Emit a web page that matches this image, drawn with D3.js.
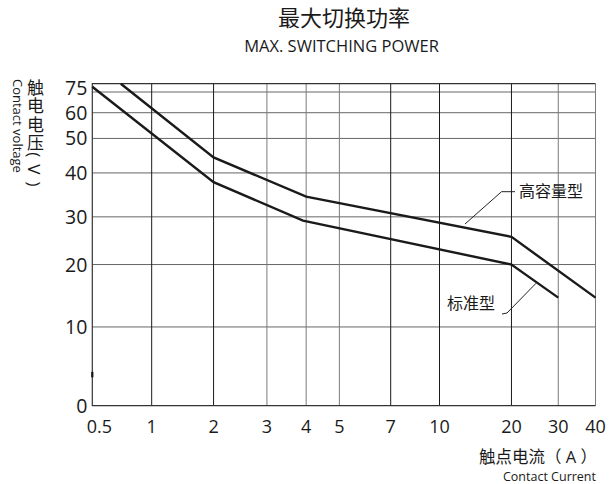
<!DOCTYPE html>
<html>
<head>
<meta charset="utf-8">
<script src="https://cdn.jsdelivr.net/npm/d3@7"></script>
<style>
  body { margin: 0; background: #fff; }
  svg { display: block; }
  text { font-family: "Open Sans", "Noto Sans CJK SC", sans-serif; fill: #1a1a1a; }
</style>
</head>
<body>
<div id="chart"></div>
<script>
// x axis (contact current, A) ticks and y axis (contact voltage, V) ticks
const xTicks = [0.5, 1, 2, 3, 4, 5, 7, 10, 20, 30, 40];
const xDarkTicks = [1, 2, 7, 10, 20];
const yTicks = [0, 10, 20, 30, 40, 50, 60, 75];
const yMax = 81;

// curves: [current, voltage]
const highCapacity = [[0.74, 81], [2, 44.5], [4, 34.6], [20, 25.8], [40, 14.7]];
const standard = [[0.5, 78.8], [2, 37.9], [3.92, 29.2], [20, 20], [30, 14.7]];

const width = 612, height = 484;
const margin = { left: 92.3, right: 16.5, bottom: 78.3, top: 92 };
const plotW = width - margin.left - margin.right;
const plotH = height - margin.top - margin.bottom;

// the printed axes are hand spaced, so the scales are piecewise
const xFrac = [0, 0.118, 0.241, 0.347, 0.425, 0.491, 0.593, 0.690, 0.833, 0.926, 1];
const yFrac = [0, 0.251, 0.450, 0.602, 0.742, 0.852, 0.934, 1];

const x = d3.scaleLinear()
    .domain(xTicks)
    .range(xFrac.map(f => margin.left + f * plotW));
const y = d3.scaleLinear()
    .domain(yTicks)
    .range(yFrac.map(f => margin.top + plotH - f * plotH));

const svg = d3.select("#chart").append("svg")
    .attr("width", width)
    .attr("height", height);

const yTop = y(yMax);
const yBottom = y(0);
const xLeft = x(xTicks[0]);
const xRight = x(xTicks[xTicks.length - 1]);

// horizontal grid
svg.append("g")
    .selectAll("line")
    .data(yTicks.slice(1))
    .join("line")
    .attr("x1", xLeft).attr("x2", xRight)
    .attr("y1", d => y(d)).attr("y2", d => y(d))
    .attr("stroke", "#666")
    .attr("stroke-width", 1);

// vertical grid
svg.append("g")
    .selectAll("line")
    .data(xTicks.slice(1))
    .join("line")
    .attr("x1", d => x(d)).attr("x2", d => x(d))
    .attr("y1", yTop).attr("y2", yBottom)
    .attr("stroke", d => xDarkTicks.includes(d) ? "#1a1a1a" : "#7a7a7a")
    .attr("stroke-width", 1);

// frame: top, left, bottom
svg.append("path")
    .attr("d", `M${xRight},${yTop}H${xLeft}V${yBottom}H${xRight}`)
    .attr("fill", "none")
    .attr("stroke", "#333")
    .attr("stroke-width", 1.2);

// small break mark on the voltage axis
svg.append("line")
    .attr("x1", xLeft).attr("x2", xLeft)
    .attr("y1", y(4.3)).attr("y2", y(3.6))
    .attr("stroke", "#111")
    .attr("stroke-width", 2.2);

// tick labels
svg.append("g")
    .selectAll("text")
    .data(yTicks)
    .join("text")
    .attr("x", xLeft - 5)
    .attr("y", d => d === 75 ? y(d) - 4 : y(d))
    .attr("dy", "0.36em")
    .attr("text-anchor", "end")
    .attr("font-size", 19.5)
    .text(d => d);

svg.append("g")
    .selectAll("text")
    .data(xTicks)
    .join("text")
    .attr("x", d => d === 0.5 ? x(d) + 7 : x(d))
    .attr("y", 427)
    .attr("dy", "0.36em")
    .attr("text-anchor", "middle")
    .attr("font-size", 18)
    .text(d => d);

// curves
const line = d3.line()
    .x(d => x(d[0]))
    .y(d => y(d[1]));

[highCapacity, standard].forEach(series => {
    svg.append("path")
        .datum(series)
        .attr("d", line)
        .attr("fill", "none")
        .attr("stroke", "#1a1a1a")
        .attr("stroke-width", 2.4)
        .attr("stroke-linejoin", "miter");
});

// leaders and curve names
svg.append("path")
    .attr("d", "M465,224L501.5,191.7H515")
    .attr("fill", "none").attr("stroke", "#222").attr("stroke-width", 1);
svg.append("text")
    .attr("x", 519).attr("y", 191.7).attr("dy", "0.36em")
    .attr("font-size", 16)
    .text("高容量型");

svg.append("path")
    .attr("d", "M502,314L507,313L536,283.3")
    .attr("fill", "none").attr("stroke", "#222").attr("stroke-width", 1);
svg.append("text")
    .attr("x", 447).attr("y", 303).attr("dy", "0.36em")
    .attr("font-size", 16)
    .text("标准型");

// titles
svg.append("text")
    .attr("x", 344).attr("y", 18.5).attr("dy", "0.36em")
    .attr("text-anchor", "middle")
    .attr("font-size", 22)
    .text("最大切换功率");
svg.append("text")
    .attr("x", 341.5).attr("y", 46).attr("dy", "0.36em")
    .attr("text-anchor", "middle")
    .attr("font-size", 16.5)
    .text("MAX. SWITCHING POWER");

// axis titles
svg.append("text")
    .attr("x", 597).attr("y", 457).attr("dy", "0.36em")
    .attr("text-anchor", "end")
    .attr("font-size", 16.5)
    .text("触点电流（ A ）");
svg.append("text")
    .attr("x", 596).attr("y", 476).attr("dy", "0.36em")
    .attr("text-anchor", "end")
    .attr("font-size", 12.5)
    .text("Contact Current");

// vertical voltage title, written top to bottom
svg.append("text")
    .attr("x", 34.5).attr("y", 79)
    .style("writing-mode", "vertical-rl")
    .attr("font-size", 17)
    .attr("letter-spacing", 1.3)
    .text("触电电压( V )");

svg.append("text")
    .attr("transform", "translate(12.5,79) rotate(90)")
    .attr("font-size", 13)
    .text("Contact voltage");
</script>
</body>
</html>
